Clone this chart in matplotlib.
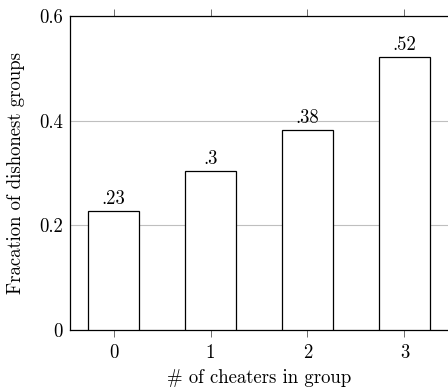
import matplotlib.pyplot as plt

plt.rcParams['font.family'] = 'serif'
plt.rcParams['font.serif'] = ['cmr10']
plt.rcParams['mathtext.fontset'] = 'cm'
plt.rcParams['axes.formatter.use_mathtext'] = True

cheaters = [0, 1, 2, 3]
fractions = [0.228, 0.304, 0.382, 0.521]
bar_labels = [".23", ".3", ".38", ".52"]
yticks = [0, 0.2, 0.4, 0.6]
ytick_labels = ["0", "0.2", "0.4", "0.6"]

FS = 13.5

fig = plt.figure(figsize=(4.48, 3.87), dpi=100)
ax = fig.add_axes([70 / 448, 57 / 387, 379 / 448, 314 / 387])

ax.bar(cheaters, fractions, width=0.52, facecolor="white", edgecolor="black",
       linewidth=0.9, zorder=3)
for x, v, lab in zip(cheaters, fractions, bar_labels):
    ax.text(x, v + 0.006, lab, ha="center", va="bottom", fontsize=FS)

ax.set_xlim(-0.45, 3.46)
ax.set_ylim(0, 0.6)
ax.set_xticks(cheaters)
ax.set_xticklabels([str(c) for c in cheaters])
ax.set_yticks(yticks)
ax.set_yticklabels(ytick_labels)
ax.yaxis.grid(True, color="#bfbfbf", linewidth=0.8, zorder=0)
ax.set_axisbelow(True)

ax.tick_params(axis="x", direction="out", top=True, bottom=True, length=5,
               width=0.6, color="#555555", labelsize=FS, pad=5)
ax.tick_params(axis="y", direction="in", left=True, right=True, length=0,
               labelsize=FS, pad=5)
for s in ax.spines.values():
    s.set_linewidth(0.9)

ax.set_xlabel("# of cheaters in group", fontsize=FS, labelpad=5)
ax.set_ylabel("Fracation of dishonest groups", fontsize=FS, labelpad=10)

fig.savefig("out.png", dpi=100)
